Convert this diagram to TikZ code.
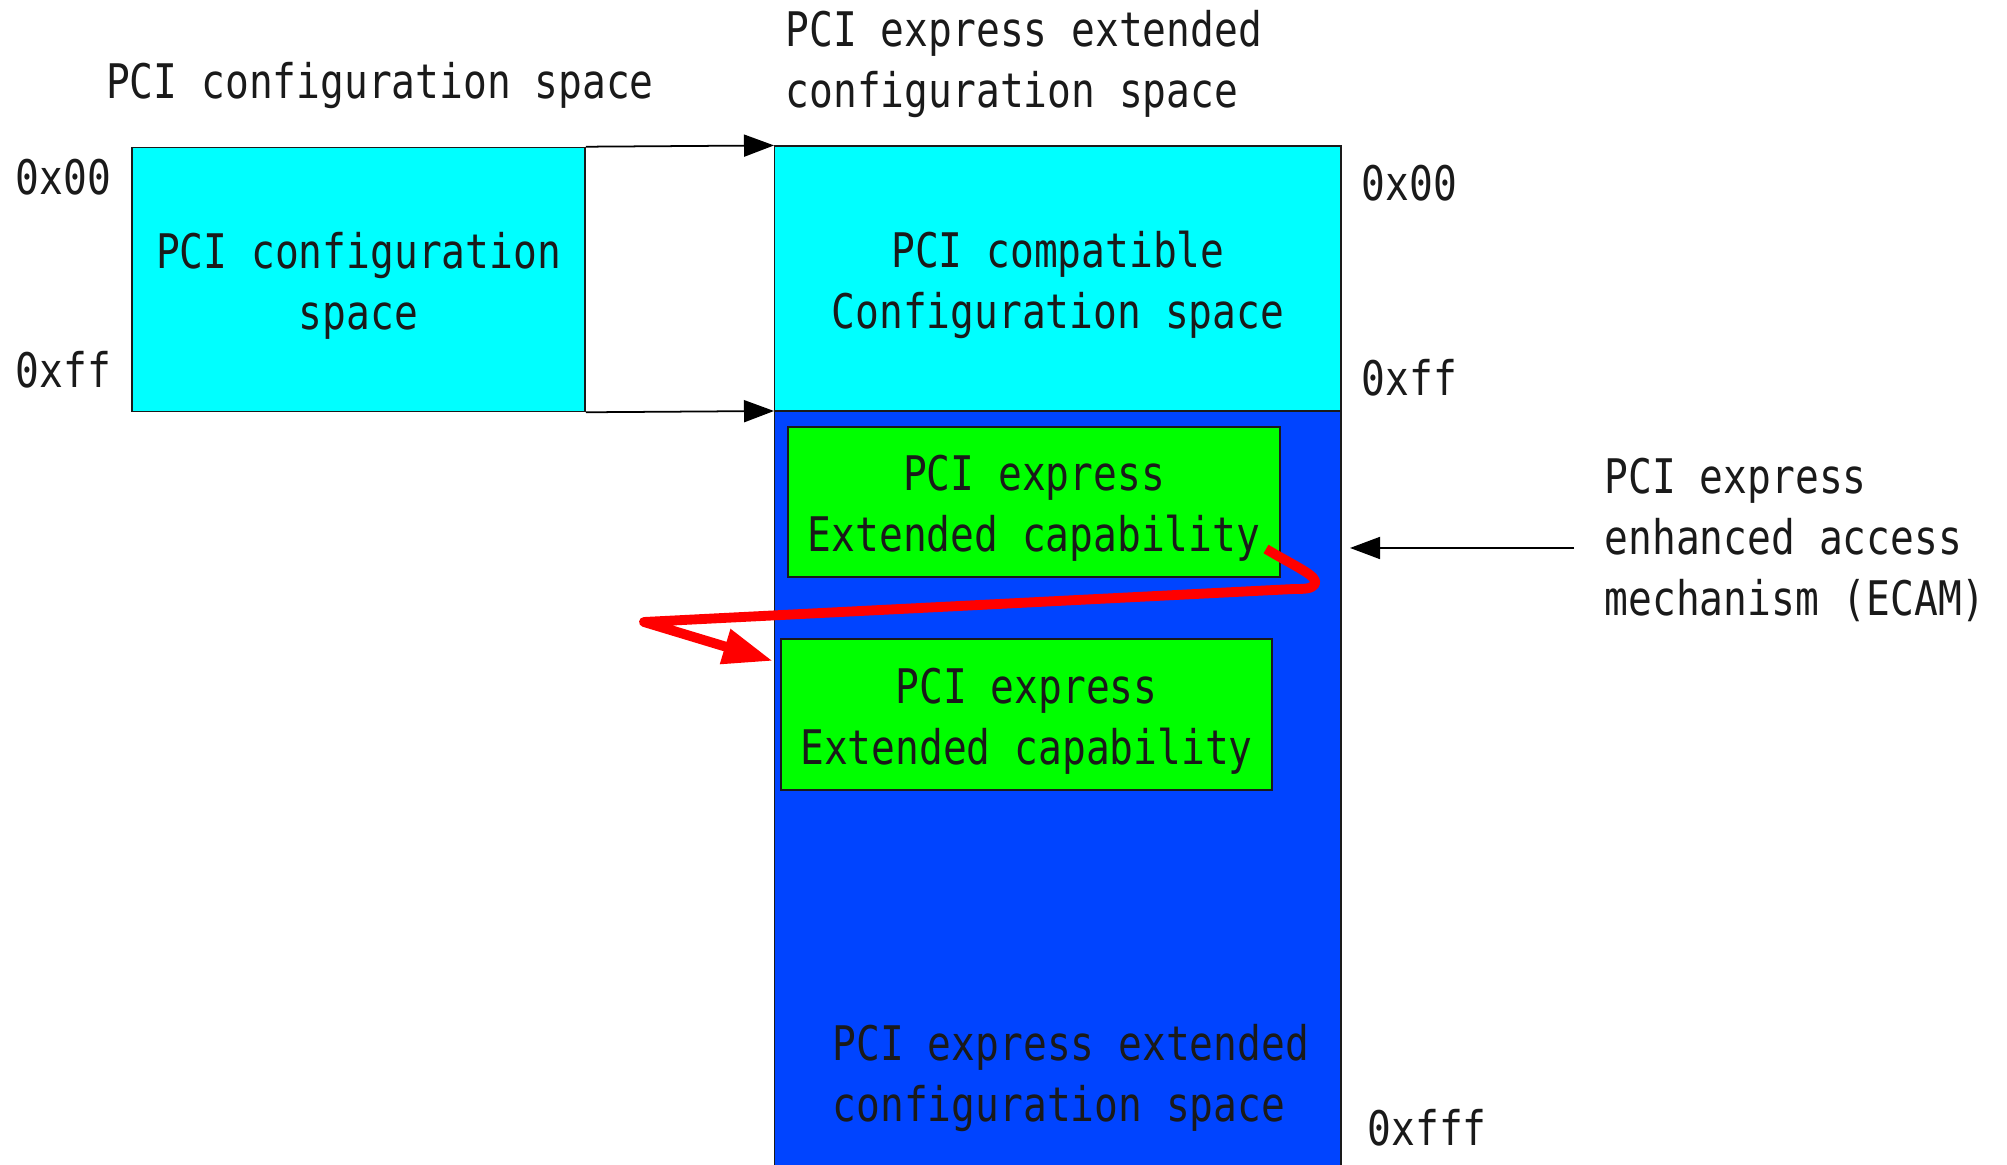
\documentclass[tikz,border=0pt]{standalone}
\usepackage{fontspec}
\setmainfont{DejaVu Sans Mono}[FakeStretch=0.83]
\usetikzlibrary{arrows.meta}
\definecolor{cfgcyan}{RGB}{0,255,255}
\definecolor{capgreen}{RGB}{0,255,0}
\definecolor{extblue}{RGB}{0,68,255}
\definecolor{ink}{RGB}{26,26,26}
\newcommand{\cfgfont}{\fontsize{13.55pt}{17.4pt}\selectfont}
\tikzstyle{region} = [draw=ink, line width=0.4pt, rectangle, inner sep=0pt]
\tikzstyle{txt} = [inner sep=0pt, text=ink, font=\cfgfont]
\tikzstyle{boxtxt} = [txt, align=center, yshift=-0.065cm]
\tikzstyle{map} = [-{Triangle[length=0.3cm,width=0.22cm]}, line width=0.5pt]
\tikzstyle{walk} = [draw=red, line width=2.8pt, line join=round,
    -{Triangle[length=0.5cm,width=0.34cm]}]

\begin{document}
\begin{tikzpicture}[x=0.01cm, y=-0.01cm]
    \useasboundingbox (0,0) rectangle (2007,1165);
    % legacy 256 byte space
    \node [region, fill=cfgcyan, minimum width=4.53cm, minimum height=2.64cm] (pci) at (358.5,279.5) {};
    \node [boxtxt] (pcitxt) at (pci.center) {PCI configuration\\space};
    \node [txt, anchor=west] (pcilo) at (15,177) {0x00};
    \node [txt, anchor=west] (pcihi) at (15,370) {0xff};
    \node [txt] (pcititle) at (380,86) {PCI configuration space};
    % extended 4k space
    \node [region, fill=extblue, minimum width=5.66cm, minimum height=7.64cm, anchor=north west] (ext) at (774,411) {};
    \node [region, fill=cfgcyan, minimum width=5.66cm, minimum height=2.64cm, anchor=south west] (compat) at (774,411) {};
    \node [boxtxt] (compattxt) at (compat.center) {PCI compatible\\Configuration space};
    \node [region, fill=capgreen, minimum width=4.92cm, minimum height=1.50cm] (cap1) at (1034,502) {};
    \node [boxtxt] (cap1txt) at (cap1.center) {PCI express\\Extended capability};
    \node [region, fill=capgreen, minimum width=4.91cm, minimum height=1.51cm] (cap2) at (1026.5,714.5) {};
    \node [boxtxt] (cap2txt) at (cap2.center) {PCI express\\Extended capability};
    \node [txt, align=left, anchor=west] (exttxt) at (832,1078) {PCI express extended\\configuration space};
    \node [txt, align=left, anchor=west] (exttitle) at (785,64) {PCI express extended\\configuration space};
    \node [txt, anchor=west] (extlo) at (1361,183) {0x00};
    \node [txt, anchor=west] (extmid) at (1361,378) {0xff};
    \node [txt, anchor=west] (exthi) at (1367,1128) {0xfff};
    \node [txt, align=left, anchor=west] (ecam) at (1604,540) {PCI express\\enhanced access\\mechanism (ECAM)};
    % mapping arrows
    \draw [map] (pci.north east) -- (compat.north west);
    \draw [map] (pci.south east) -- (compat.south west);
    \coordinate (ecamfrom) at (1574,548);
    \coordinate (ecamto) at (1350,548);
    \draw [map] (ecamfrom) -- (ecamto);
    % capability list pointer
    \coordinate (nextptr) at (1266,549);
    \coordinate (nexttip) at (773,661);
    \draw [walk] (nextptr) .. controls (1298,568) and (1318,576) .. (1315,584)
        .. controls (1312,589) and (1304,589) .. (1294,589) -- (644,622) -- (nexttip);
\end{tikzpicture}
\end{document}
